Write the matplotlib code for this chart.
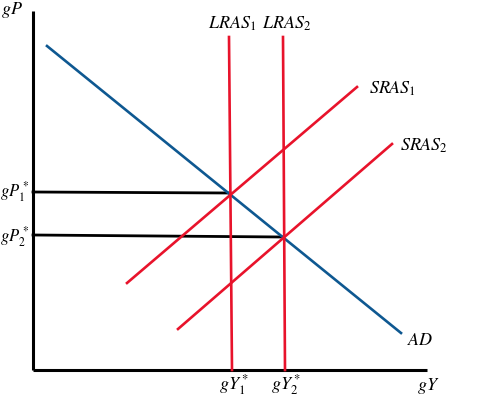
import matplotlib
matplotlib.use("Agg")
import matplotlib.pyplot as plt

plt.rcParams['mathtext.fontset'] = 'stix'

# Curve endpoints (gY, gP) in arbitrary units
ad_x = [1.4, 36.8]
ad_y = [32.4, 3.7]
sras1_x = [9.4, 32.4]
sras1_y = [8.7, 28.3]
sras2_x = [14.5, 35.9]
sras2_y = [4.1, 22.6]
lras1_x = [19.6, 19.9]
lras1_y = [33.3, 0.0]
lras2_x = [25.0, 25.2]
lras2_y = [33.3, 0.0]
gp1_x = [0.0, 19.7]
gp1_y = [17.8, 17.7]
gp2_x = [0.0, 25.0]
gp2_y = [13.5, 13.3]
axis_x_max = 39.4
axis_y_max = 35.9

RED = '#E8132B'
BLUE = '#0E5891'

fig = plt.figure(figsize=(4.97, 3.98), dpi=100)
ax = fig.add_axes([0, 0, 1, 1])
ax.set_xlim(-3.3, 46.4)
ax.set_ylim(-2.8, 37.0)
ax.axis('off')

# axes
ax.plot([0, 0], [0, axis_y_max], color='black', lw=2.2, solid_capstyle='butt')
ax.plot([0, axis_x_max], [0, 0], color='black', lw=2.2, solid_capstyle='butt')

ax.plot(gp1_x, gp1_y, color='black', lw=2.0)
ax.plot(gp2_x, gp2_y, color='black', lw=2.0)

ax.plot(ad_x, ad_y, color=BLUE, lw=1.9)
ax.plot(sras1_x, sras1_y, color=RED, lw=1.9)
ax.plot(sras2_x, sras2_y, color=RED, lw=1.9)
ax.plot(lras1_x, lras1_y, color=RED, lw=1.9)
ax.plot(lras2_x, lras2_y, color=RED, lw=1.9)

fs = 13
ax.text(-2.1, 36.0, r'$gP$', fontsize=fs, ha='center', va='center')
ax.text(19.9, 34.6, r'$LRAS_1$', fontsize=fs, ha='center', va='center')
ax.text(25.4, 34.6, r'$LRAS_2$', fontsize=fs, ha='center', va='center')
ax.text(33.6, 28.1, r'$SRAS_1$', fontsize=fs, ha='left', va='center')
ax.text(36.7, 22.4, r'$SRAS_2$', fontsize=fs, ha='left', va='center')
ax.text(37.4, 3.0, r'$AD$', fontsize=fs, ha='left', va='center')
ax.text(-0.35, 17.8, r'$gP_1^*$', fontsize=12, ha='right', va='center')
ax.text(-0.35, 13.3, r'$gP_2^*$', fontsize=12, ha='right', va='center')
ax.text(20.1, -1.5, r'$gY_1^*$', fontsize=fs, ha='center', va='center')
ax.text(25.3, -1.5, r'$gY_2^*$', fontsize=fs, ha='center', va='center')
ax.text(39.5, -1.6, r'$gY$', fontsize=fs, ha='center', va='center')

fig.savefig('out.png', dpi=100)
